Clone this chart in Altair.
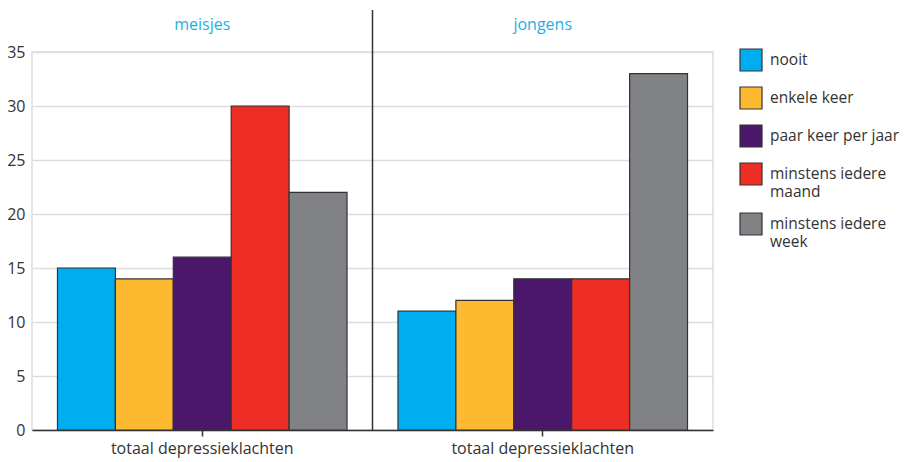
import altair as alt
import pandas as pd

groups = ["meisjes", "jongens"]
series = ["nooit", "enkele keer", "paar keer per jaar", "minstens iedere maand", "minstens iedere week"]
colors = ["#00AEEF", "#FDB92F", "#4A176B", "#EE2E24", "#808285"]
meisjes_values = [15, 14, 16, 30, 22]
jongens_values = [11, 12, 14, 14, 33]
category_label = "totaal depressieklachten"
y_ticks = [0, 5, 10, 15, 20, 25, 30, 35]

rows = []
for s, v in zip(series, meisjes_values):
    rows.append({"group": "meisjes", "series": s, "value": v})
for s, v in zip(series, jongens_values):
    rows.append({"group": "jongens", "series": s, "value": v})
df = pd.DataFrame(rows)

FONT = "Open Sans"
FS = 16
LFS = 15.5
W, H = 681, 378

# legend swatches: centred for one-line labels, raised to the first line for two-line labels
sym_mid = "M-1,-0.68H1V0.68H-1Z"
sym_up = "M-1,-1.59H1V-0.23H-1Z"
shapes = [sym_mid, sym_mid, sym_mid, sym_up, sym_up]

xscale = alt.Scale(domain=groups, paddingInner=0, paddingOuter=0)

legend = alt.Legend(
    title=None, orient="none", legendX=707, legendY=-4, padding=0, labelFontSize=LFS,
    labelFont=FONT, labelColor="#333333", labelLimit=300,
    symbolSize=484, symbolStrokeColor="#333333", symbolStrokeWidth=1.2,
    symbolOpacity=1, rowPadding=10, labelOffset=7,
    labelExpr="indexof(datum.label, 'minstens iedere ') == 0 ? ['minstens iedere', substring(datum.label, 16)] : datum.label",
)

bars = alt.Chart(df).mark_bar(stroke="#333333", strokeWidth=1.2).encode(
    x=alt.X("group:N", scale=xscale, title=None,
            axis=alt.Axis(labelExpr=f"'{category_label}'", labelAngle=0, labelFontSize=FS,
                          labelColor="#333333", labelFont=FONT, labelLimit=400,
                          domainColor="#333333", domainWidth=1.5, tickColor="#333333",
                          tickSize=6, tickWidth=1.5, labelPadding=4, grid=False)),
    xOffset=alt.XOffset("series:N", sort=series,
                        scale=alt.Scale(paddingInner=0, paddingOuter=0.44)),
    y=alt.Y("value:Q", scale=alt.Scale(domain=[0, 35], nice=False), title=None,
            axis=alt.Axis(values=y_ticks, domain=False, ticks=False, labelFontSize=FS,
                          labelColor="#333333", labelFont=FONT, labelPadding=7,
                          gridColor="#dddddd", gridWidth=1.5)),
    color=alt.Color("series:N", sort=series, scale=alt.Scale(domain=series, range=colors),
                    legend=legend),
    shape=alt.Shape("series:N", sort=series, scale=alt.Scale(domain=series, range=shapes),
                    legend=legend),
)

gdf = pd.DataFrame({"group": groups})

titles = alt.Chart(gdf).mark_text(fontSize=FS, font=FONT, color="#1AB0E8", baseline="middle").encode(
    x=alt.X("group:N", scale=xscale),
    y=alt.value(-27),
    text="group:N",
)

divider = alt.Chart(pd.DataFrame({"group": ["jongens"]})).mark_rule(color="#333333", strokeWidth=1.5).encode(
    x=alt.X("group:N", scale=xscale, bandPosition=0),
    y=alt.value(-42),
    y2=alt.value(H),
)

chart = alt.layer(bars, divider, titles).properties(
    width=W, height=H,
    autosize=alt.AutoSizeParams(type="none"),
    padding={"left": 24, "top": 44, "right": 187, "bottom": 30},
).configure_view(stroke="#dddddd", strokeWidth=1.5)

chart.save("out.html", embed_options={"renderer": "svg", "actions": False})
